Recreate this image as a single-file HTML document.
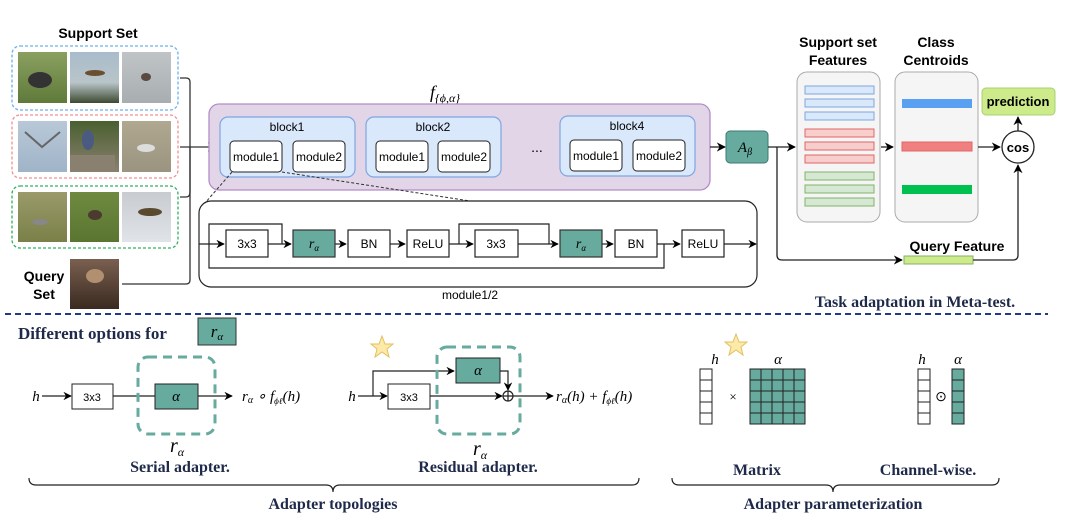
<!DOCTYPE html>
<html><head><meta charset="utf-8"><style>
html,body{margin:0;padding:0;background:#fff;}
svg{display:block;}
.s{font-family:"Liberation Sans",sans-serif;}
.r{font-family:"Liberation Serif",serif;}
</style></head><body>
<svg width="1080" height="518" viewBox="0 0 1080 518" xmlns="http://www.w3.org/2000/svg">
<defs>
<marker id="a" viewBox="0 0 10 10" refX="9" refY="5" markerWidth="7" markerHeight="7" orient="auto"><path d="M0,0 L10,5 L0,10 L3,5z" fill="#000"/></marker>
<linearGradient id="g1" x1="0" y1="0" x2="0" y2="1"><stop offset="0" stop-color="#8aa060"/><stop offset="1" stop-color="#5f7a3a"/></linearGradient>
<linearGradient id="g2" x1="0" y1="0" x2="0" y2="1"><stop offset="0" stop-color="#a9bccc"/><stop offset="0.6" stop-color="#b8c4c8"/><stop offset="1" stop-color="#3d4a30"/></linearGradient>
<linearGradient id="g3" x1="0" y1="0" x2="0" y2="1"><stop offset="0" stop-color="#c0c4c6"/><stop offset="1" stop-color="#a8aeb0"/></linearGradient>
<linearGradient id="g4" x1="0" y1="0" x2="0" y2="1"><stop offset="0" stop-color="#b8c8d8"/><stop offset="1" stop-color="#a0b4c8"/></linearGradient>
<linearGradient id="g5" x1="0" y1="0" x2="0" y2="1"><stop offset="0" stop-color="#4a6030"/><stop offset="1" stop-color="#8a8070"/></linearGradient>
<linearGradient id="g6" x1="0" y1="0" x2="0" y2="1"><stop offset="0" stop-color="#b0a890"/><stop offset="1" stop-color="#9a9480"/></linearGradient>
<linearGradient id="g7" x1="0" y1="0" x2="0" y2="1"><stop offset="0" stop-color="#9a9a6a"/><stop offset="1" stop-color="#7a8048"/></linearGradient>
<linearGradient id="g8" x1="0" y1="0" x2="0" y2="1"><stop offset="0" stop-color="#6f8a40"/><stop offset="1" stop-color="#5a7530"/></linearGradient>
<linearGradient id="g9" x1="0" y1="0" x2="0" y2="1"><stop offset="0" stop-color="#c8ccd0"/><stop offset="1" stop-color="#e0e4e8"/></linearGradient>
<linearGradient id="g10" x1="0" y1="0" x2="0" y2="1"><stop offset="0" stop-color="#7a6050"/><stop offset="1" stop-color="#3a2a20"/></linearGradient>
</defs>

<text x="98" y="38" class="s" font-size="14" font-weight="bold" text-anchor="middle">Support Set</text>
<rect x="12" y="46" width="166" height="64" rx="8" fill="none" stroke="#6ab0f0" stroke-width="1.3" stroke-dasharray="3,2"/>
<rect x="12" y="115" width="166" height="63" rx="8" fill="none" stroke="#f09090" stroke-width="1.3" stroke-dasharray="3,2"/>
<rect x="12" y="186" width="166" height="62" rx="8" fill="none" stroke="#30b060" stroke-width="1.3" stroke-dasharray="3,2"/>
<rect x="18" y="52" width="49" height="51" fill="url(#g1)"/><ellipse cx="40" cy="80" rx="12" ry="8" fill="#333"/>
<rect x="70" y="52" width="49" height="51" fill="url(#g2)"/><ellipse cx="95" cy="73" rx="10" ry="3" fill="#6a5030"/>
<rect x="122" y="52" width="49" height="51" fill="url(#g3)"/><ellipse cx="146" cy="77" rx="5" ry="4" fill="#5a4a40"/>
<rect x="18" y="121" width="49" height="51" fill="url(#g4)"/><path d="M25,132 L42,147 L60,132" stroke="#666" stroke-width="2" fill="none"/>
<rect x="70" y="121" width="49" height="51" fill="url(#g5)"/><ellipse cx="88" cy="140" rx="6" ry="10" fill="#4a5a80"/><rect x="70" y="155" width="45" height="17" fill="#8a8070"/>
<rect x="122" y="121" width="49" height="51" fill="url(#g6)"/><ellipse cx="146" cy="148" rx="9" ry="4" fill="#ddd"/>
<rect x="18" y="192" width="49" height="50" fill="url(#g7)"/><ellipse cx="40" cy="222" rx="8" ry="3" fill="#888"/>
<rect x="70" y="192" width="49" height="50" fill="url(#g8)"/><ellipse cx="95" cy="215" rx="7" ry="5" fill="#4a3a30"/>
<rect x="122" y="192" width="49" height="50" fill="url(#g9)"/><ellipse cx="150" cy="212" rx="12" ry="4" fill="#5a4a30"/>
<text x="44" y="281" class="s" font-size="14" font-weight="bold" text-anchor="middle">Query</text>
<text x="44" y="299" class="s" font-size="14" font-weight="bold" text-anchor="middle">Set</text>
<rect x="70" y="259" width="49" height="50" fill="url(#g10)"/><ellipse cx="95" cy="276" rx="9" ry="7" fill="#b09070"/>

<g stroke="#333" stroke-width="1.3" fill="none">
<path d="M180,78 L186,78 Q190,78 190,82 L190,192 Q190,197 186,197 L180,197"/>
<path d="M180,147 L216,147" marker-end="url(#a)"/>
<path d="M122,284 L186,284 Q190,284 190,280 L190,147"/>
</g>

<text x="445" y="98" class="r" font-size="18" font-style="italic" text-anchor="middle">f<tspan font-size="12" dy="4">{ϕ,α}</tspan></text>
<rect x="209" y="104" width="501" height="86" rx="10" fill="#e1d5e7" stroke="#b48cc8" stroke-width="1.3"/>
<g class="s" font-size="12">
<rect x="220" y="117" width="135" height="60" rx="8" fill="#dae8fc" stroke="#7ea6e0" stroke-width="1.2"/>
<text x="287" y="131" text-anchor="middle">block1</text>
<rect x="230" y="141" width="52" height="31" rx="4" fill="#fff" stroke="#222"/>
<text x="256" y="161" text-anchor="middle">module1</text>
<rect x="293" y="141" width="52" height="31" rx="4" fill="#fff" stroke="#222"/>
<text x="319" y="161" text-anchor="middle">module2</text>
<rect x="366" y="117" width="135" height="60" rx="8" fill="#dae8fc" stroke="#7ea6e0" stroke-width="1.2"/>
<text x="433" y="131" text-anchor="middle">block2</text>
<rect x="376" y="141" width="52" height="31" rx="4" fill="#fff" stroke="#222"/>
<text x="402" y="161" text-anchor="middle">module1</text>
<rect x="438" y="141" width="52" height="31" rx="4" fill="#fff" stroke="#222"/>
<text x="464" y="161" text-anchor="middle">module2</text>
<text x="537" y="152" text-anchor="middle" font-size="14">...</text>
<rect x="560" y="116" width="135" height="60" rx="8" fill="#dae8fc" stroke="#7ea6e0" stroke-width="1.2"/>
<text x="627" y="130" text-anchor="middle">block4</text>
<rect x="570" y="140" width="52" height="31" rx="4" fill="#fff" stroke="#222"/>
<text x="596" y="160" text-anchor="middle">module1</text>
<rect x="633" y="140" width="52" height="31" rx="4" fill="#fff" stroke="#222"/>
<text x="659" y="160" text-anchor="middle">module2</text>
</g>
<path d="M232,172 L205,203" stroke="#333" stroke-dasharray="3,2" fill="none"/>
<path d="M282,172 L470,201" stroke="#333" stroke-dasharray="3,2" fill="none"/>

<path d="M710,147 L725,147" stroke="#222" stroke-width="1.3" marker-end="url(#a)"/>
<rect x="726" y="131" width="42" height="32" rx="4" fill="#67ab9f" stroke="#3d7a70"/>
<text x="745" y="152" class="r" font-size="15" font-style="italic" text-anchor="middle">A<tspan font-size="10" dy="3">β</tspan></text>
<path d="M768,147 L795,147" stroke="#222" stroke-width="1.3" marker-end="url(#a)"/>
<path d="M777,147 L777,255 Q777,260 782,260 L902,260" stroke="#222" stroke-width="1.3" fill="none" marker-end="url(#a)"/>

<text x="838" y="47" class="s" font-size="14" font-weight="bold" text-anchor="middle">Support set</text>
<text x="838" y="65" class="s" font-size="14" font-weight="bold" text-anchor="middle">Features</text>
<rect x="797" y="72" width="83" height="150" rx="10" fill="#f5f5f5" stroke="#aaa"/>
<g stroke-width="1">
<rect x="805" y="86" width="69" height="8" fill="#dae8fc" stroke="#7ea6e0"/>
<rect x="805" y="99" width="69" height="8" fill="#dae8fc" stroke="#7ea6e0"/>
<rect x="805" y="112" width="69" height="8" fill="#dae8fc" stroke="#7ea6e0"/>
<rect x="805" y="129" width="69" height="8" fill="#f8cecc" stroke="#e06666"/>
<rect x="805" y="142" width="69" height="8" fill="#f8cecc" stroke="#e06666"/>
<rect x="805" y="155" width="69" height="8" fill="#f8cecc" stroke="#e06666"/>
<rect x="805" y="172" width="69" height="8" fill="#d5e8d4" stroke="#82b366"/>
<rect x="805" y="185" width="69" height="8" fill="#d5e8d4" stroke="#82b366"/>
<rect x="805" y="198" width="69" height="8" fill="#d5e8d4" stroke="#82b366"/>
</g>
<path d="M881,147 L893,147" stroke="#222" stroke-width="1.3" marker-end="url(#a)"/>
<text x="936" y="47" class="s" font-size="14" font-weight="bold" text-anchor="middle">Class</text>
<text x="936" y="65" class="s" font-size="14" font-weight="bold" text-anchor="middle">Centroids</text>
<rect x="895" y="72" width="83" height="150" rx="10" fill="#f5f5f5" stroke="#aaa"/>
<rect x="902" y="99" width="70" height="9" fill="#5aa0f0"/>
<rect x="902" y="142" width="70" height="9" fill="#f08080" stroke="#e06666"/>
<rect x="902" y="185" width="70" height="9" fill="#00c050"/>
<path d="M978,147 L1000,147" stroke="#222" stroke-width="1.3" marker-end="url(#a)"/>
<circle cx="1018" cy="147" r="16" fill="#fff" stroke="#222" stroke-width="1.3"/>
<text x="1018" y="152" class="s" font-size="13" font-weight="bold" text-anchor="middle">cos</text>
<path d="M1018,131 L1018,117" stroke="#222" stroke-width="1.3" marker-end="url(#a)"/>
<rect x="982" y="88" width="73" height="27" rx="4" fill="#cdeb8b" stroke="#a8d070"/>
<text x="1018" y="106" class="s" font-size="13" font-weight="bold" text-anchor="middle">prediction</text>
<text x="957" y="251" class="s" font-size="14" font-weight="bold" text-anchor="middle">Query Feature</text>
<rect x="904" y="256" width="69" height="8" fill="#cdeb8b" stroke="#82b366"/>
<path d="M973,260 L1013,260 Q1018,260 1018,255 L1018,165" stroke="#222" stroke-width="1.3" fill="none" marker-end="url(#a)"/>

<rect x="199" y="201" width="558" height="86" rx="12" fill="none" stroke="#222" stroke-width="1.2"/>
<text x="470" y="299" class="s" font-size="12" text-anchor="middle">module1/2</text>
<g stroke="#222" stroke-width="1.2" fill="none">
<path d="M199,244 L224,244" marker-end="url(#a)"/>
<path d="M268,244 L291,244" marker-end="url(#a)"/>
<path d="M335,244 L346,244" marker-end="url(#a)"/>
<path d="M390,244 L405,244" marker-end="url(#a)"/>
<path d="M449,244 L473,244" marker-end="url(#a)"/>
<path d="M518,244 L558,244" marker-end="url(#a)"/>
<path d="M602,244 L613,244" marker-end="url(#a)"/>
<path d="M657,244 L680,244" marker-end="url(#a)"/>
<path d="M724,244 L756,244" marker-end="url(#a)"/>
<path d="M209,244 L209,224 L282,224 L282,244"/>
<path d="M209,244 L209,268 L664,268 L664,244"/>
<path d="M459,244 L459,224 L549,224 L549,244"/>
</g>
<g class="s" font-size="12" text-anchor="middle" stroke-width="1.2">
<rect x="226" y="230" width="42" height="27" fill="#fff" stroke="#222"/><text x="247" y="248">3x3</text>
<rect x="293" y="230" width="42" height="27" fill="#67ab9f" stroke="#333"/><text x="314" y="248" class="r" font-style="italic" font-size="14">r<tspan font-size="9" dy="3">α</tspan></text>
<rect x="348" y="230" width="42" height="27" fill="#fff" stroke="#222"/><text x="369" y="248">BN</text>
<rect x="407" y="230" width="42" height="27" fill="#fff" stroke="#222"/><text x="428" y="248">ReLU</text>
<rect x="475" y="230" width="43" height="27" fill="#fff" stroke="#222"/><text x="496" y="248">3x3</text>
<rect x="560" y="230" width="42" height="27" fill="#67ab9f" stroke="#333"/><text x="581" y="248" class="r" font-style="italic" font-size="14">r<tspan font-size="9" dy="3">α</tspan></text>
<rect x="615" y="230" width="42" height="27" fill="#fff" stroke="#222"/><text x="636" y="248">BN</text>
<rect x="682" y="230" width="42" height="27" fill="#fff" stroke="#222"/><text x="703" y="248">ReLU</text>
</g>

<text x="915" y="307" class="r" font-size="16" font-weight="bold" fill="#1f2a4a" text-anchor="middle">Task adaptation in Meta-test.</text>
<path d="M5,314 L1048,314" stroke="#1f3a8a" stroke-width="2" stroke-dasharray="6,4"/>

<text x="18" y="339" class="r" font-size="17" font-weight="bold" fill="#1f2a4a">Different options for</text>
<rect x="198" y="318" width="38" height="27" fill="#67ab9f" stroke="#333"/>
<text x="217" y="337" class="r" font-size="17" font-style="italic" text-anchor="middle">r<tspan font-size="11" dy="3">α</tspan></text>

<g class="r" font-size="15">
<text x="36" y="401" font-style="italic" text-anchor="middle">h</text>
<g stroke="#222" stroke-width="1.2" fill="none">
<path d="M42,396 L71,396" marker-end="url(#a)"/>
<path d="M113,396 L155,396"/>
<path d="M198,396 L232,396" marker-end="url(#a)"/>
</g>
<rect x="72" y="384" width="41" height="25" fill="#fff" stroke="#222"/>
<text x="92" y="401" class="s" font-size="11" text-anchor="middle">3x3</text>
<rect x="138" y="357" width="77" height="77" rx="10" fill="none" stroke="#67ab9f" stroke-width="3" stroke-dasharray="9,6"/>
<rect x="155" y="384" width="43" height="25" fill="#67ab9f" stroke="#222"/>
<text x="176" y="401" font-style="italic" text-anchor="middle">α</text>
<text x="242" y="401" font-size="15" font-style="italic">r<tspan font-size="10" dy="2">α</tspan><tspan dy="-2"> ∘ f</tspan><tspan font-size="9" dy="3">ϕℓ</tspan><tspan dy="-3">(h)</tspan></text>
<text x="177" y="452" font-size="20" font-style="italic" text-anchor="middle">r<tspan font-size="12" dy="4">α</tspan></text>
<text x="180" y="472" font-size="16" font-weight="bold" fill="#1f2a4a" text-anchor="middle">Serial adapter.</text>

<polygon points="382,336 385,344 393,344 387,349 389,357 382,352 375,357 377,349 371,344 379,344" fill="#fde9a8" stroke="#e0c060"/>
<text x="352" y="401" font-style="italic" text-anchor="middle">h</text>
<g stroke="#222" stroke-width="1.2" fill="none">
<path d="M358,396 L387,396" marker-end="url(#a)"/>
<path d="M430,396 L502,396" marker-end="url(#a)"/>
<path d="M373,396 L373,371 L454,371" marker-end="url(#a)"/>
<path d="M500,371 L508,371 L508,390" marker-end="url(#a)"/>
<circle cx="508" cy="396" r="5" fill="#fff"/>
<path d="M503,396 L513,396 M508,391 L508,401"/>
<path d="M513,396 L553,396" marker-end="url(#a)"/>
</g>
<rect x="388" y="384" width="42" height="25" fill="#fff" stroke="#222"/>
<text x="409" y="401" class="s" font-size="11" text-anchor="middle">3x3</text>
<rect x="437" y="347" width="83" height="87" rx="10" fill="none" stroke="#67ab9f" stroke-width="3" stroke-dasharray="9,6"/>
<rect x="456" y="358" width="44" height="25" fill="#67ab9f" stroke="#222"/>
<text x="478" y="375" font-style="italic" text-anchor="middle">α</text>
<text x="556" y="401" font-size="15" font-style="italic">r<tspan font-size="10" dy="2">α</tspan><tspan dy="-2">(h) + f</tspan><tspan font-size="9" dy="3">ϕℓ</tspan><tspan dy="-3">(h)</tspan></text>
<text x="480" y="455" font-size="20" font-style="italic" text-anchor="middle">r<tspan font-size="12" dy="4">α</tspan></text>
<text x="478" y="472" font-size="16" font-weight="bold" fill="#1f2a4a" text-anchor="middle">Residual adapter.</text>

<polygon points="736,334 739,342 747,342 741,347 743,355 736,350 729,355 731,347 725,342 733,342" fill="#fde9a8" stroke="#e0c060"/>
<text x="715" y="364" font-style="italic" text-anchor="middle">h</text>
<text x="778" y="364" font-style="italic" text-anchor="middle">α</text>
<g stroke="#222" stroke-width="1">
<rect x="700" y="369" width="12" height="55" fill="#fff"/>
<path d="M700,380 H712 M700,391 H712 M700,402 H712 M700,413 H712"/>
<rect x="750" y="369" width="55" height="55" fill="#67ab9f"/>
<path d="M750,380 H805 M750,391 H805 M750,402 H805 M750,413 H805 M761,369 V424 M772,369 V424 M783,369 V424 M794,369 V424"/>
<rect x="918" y="369" width="12" height="55" fill="#fff"/>
<path d="M918,380 H930 M918,391 H930 M918,402 H930 M918,413 H930"/>
<rect x="952" y="369" width="12" height="55" fill="#67ab9f"/>
<path d="M952,380 H964 M952,391 H964 M952,402 H964 M952,413 H964"/>
</g>
<text x="733" y="401" font-size="13" text-anchor="middle">×</text>
<text x="941" y="401" font-size="14" text-anchor="middle">⊙</text>
<text x="922" y="364" font-style="italic" text-anchor="middle">h</text>
<text x="958" y="364" font-style="italic" text-anchor="middle">α</text>
<text x="757" y="475" font-size="16" font-weight="bold" fill="#1f2a4a" text-anchor="middle">Matrix</text>
<text x="928" y="475" font-size="16" font-weight="bold" fill="#1f2a4a" text-anchor="middle">Channel-wise.</text>

<g stroke="#222" stroke-width="1.2" fill="none">
<path d="M29,478 Q29,485 36,485 L326,485 Q333,485 333,492 Q333,485 340,485 L632,485 Q639,485 639,478"/>
<path d="M672,478 Q672,485 679,485 L826,485 Q833,485 833,492 Q833,485 840,485 L992,485 Q999,485 999,478"/>
</g>
<text x="333" y="509" font-size="16" font-weight="bold" fill="#1f2a4a" text-anchor="middle">Adapter topologies</text>
<text x="833" y="509" font-size="16" font-weight="bold" fill="#1f2a4a" text-anchor="middle">Adapter parameterization</text>
</g>
</svg>
</body></html>
